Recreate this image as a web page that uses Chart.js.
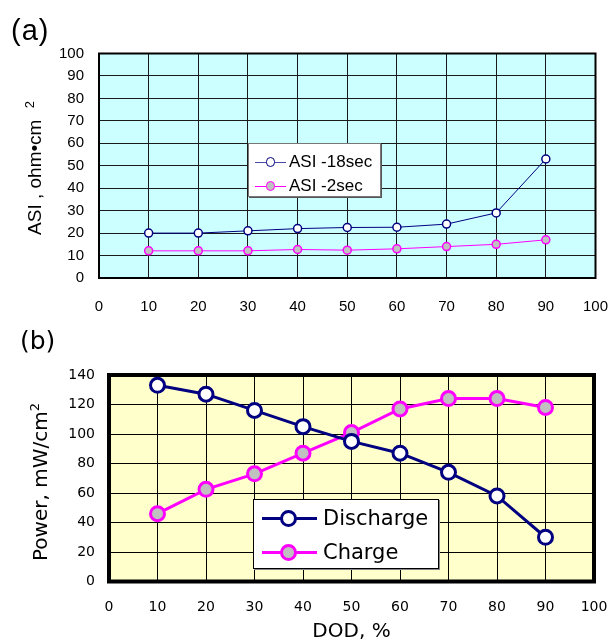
<!DOCTYPE html>
<html lang="en">
<head>
<meta charset="UTF-8">
<title>ASI and Power vs DOD</title>
<script src="https://cdn.jsdelivr.net/npm/chart.js"></script>
<style>
  body { margin: 0; background: #fff; }
  #wrap { position: relative; width: 613px; height: 640px; overflow: hidden; }
  #wrap canvas { position: absolute; left: 0; }
  .txt { position: absolute; white-space: nowrap; color: #000; }
  .ytitle { position: absolute; text-align: center; transform: rotate(-90deg); white-space: nowrap; }
  .legend { position: absolute; box-sizing: border-box; background: #fff; }
  .legend .row { display: flex; align-items: center; white-space: nowrap; }
  .legend .sample { position: relative; flex: none; }
  .legend .sample .ln { position: absolute; left: 0; right: 0; top: 50%; }
  .legend .sample .pt { position: absolute; left: 50%; top: 50%; border-radius: 50%; box-sizing: border-box; }
</style>
</head>
<body>
<div id="wrap">
  <canvas id="chartA" width="613" height="320" style="top:0"></canvas>
  <canvas id="chartB" width="613" height="322" style="top:320px"></canvas>

  <div class="txt" style="left:11px; top:14px; font:29px 'Liberation Sans', Arial, sans-serif; letter-spacing:1px;">(a)</div>
  <div class="txt" style="left:20px; top:326px; font:25px 'DejaVu Sans', Verdana, sans-serif;">(b)</div>

  <div class="ytitle" style="left:-67px; top:157px; width:200px; height:22px; line-height:22px; font:19px 'Liberation Sans', Arial, sans-serif;">ASI , ohm&bull;cm <sup style="font-size:13px; margin-left:6px;">2</sup></div>
  <div class="ytitle" style="left:-60px; top:469px; width:200px; height:26px; line-height:26px; font:20px 'DejaVu Sans', Verdana, sans-serif;">Power, mW/cm<sup style="font-size:13px;">2</sup></div>

  <div id="legendA" class="legend" style="left:248px; top:143px; width:133px; height:54px; border:1px solid #777; box-shadow:1px 1px 0 #555; padding:6px 0 0 6px; font:17px 'Liberation Sans', Arial, sans-serif;"></div>
  <div id="legendB" class="legend" style="left:253px; top:499px; width:186px; height:70px; border:1px solid #000; box-shadow:1px 1px 0 #888; padding:1px 0 0 8px; font:21px 'DejaVu Sans', Verdana, sans-serif;"></div>
</div>

<script>
  // depth of discharge, %
  var dod = [10, 20, 30, 40, 50, 60, 70, 80, 90];

  // (a) ASI, ohm.cm2
  var asi18 = [20, 20, 21, 22, 22.5, 22.6, 24, 29, 53];
  var asi2 = [12.1, 12.1, 12.1, 12.7, 12.4, 13, 14, 15, 17];

  // (b) power, mW/cm2
  var discharge = [133, 127, 116, 105, 95, 87, 74, 58, 30];
  var charge = [46, 62.5, 73, 87, 101, 117, 124, 124, 118];

  // axis ticks
  var dodTicks = [0, 100, 10];     // min, max, step
  var asiTicks = [0, 100, 10];
  var powerTicks = [0, 140, 20];

  function pts(xs, ys) {
    return xs.map(function (x, i) { return { x: x, y: ys[i] }; });
  }

  // plot area fill + frame
  var framePlugin = {
    id: 'frame',
    beforeDraw: function (chart, args, opts) {
      var a = chart.chartArea, ctx = chart.ctx;
      ctx.save();
      ctx.fillStyle = opts.fill;
      ctx.fillRect(a.left, a.top, a.right - a.left, a.bottom - a.top);
      ctx.restore();
    },
    beforeDatasetsDraw: function (chart, args, opts) {
      var a = chart.chartArea, ctx = chart.ctx;
      ctx.save();
      ctx.strokeStyle = '#000';
      ctx.lineWidth = opts.width;
      ctx.strokeRect(a.left, a.top, a.right - a.left, a.bottom - a.top);
      ctx.restore();
    }
  };

  function buildLegend(chart, el, o) {
    chart.data.datasets.forEach(function (ds) {
      var row = document.createElement('div');
      row.className = 'row';
      row.style.height = o.rowH + 'px';
      var s = document.createElement('div');
      s.className = 'sample';
      s.style.width = o.w + 'px';
      s.style.height = o.rowH + 'px';
      s.style.marginRight = o.gap + 'px';
      var ln = document.createElement('div');
      ln.className = 'ln';
      ln.style.borderTop = ds.borderWidth + 'px solid ' + (ds.legendLine || ds.borderColor);
      ln.style.marginTop = (-ds.borderWidth / 2) + 'px';
      var pt = document.createElement('div');
      pt.className = 'pt';
      var d = ds.pointRadius * 2 + ds.pointBorderWidth;
      pt.style.width = d + 'px';
      pt.style.height = d + 'px';
      pt.style.marginLeft = (-d / 2 + (o.ptShift || 0)) + 'px';
      pt.style.marginTop = (-d / 2) + 'px';
      pt.style.background = ds.pointBackgroundColor;
      pt.style.border = ds.pointBorderWidth + 'px solid ' + ds.pointBorderColor;
      s.appendChild(ln);
      s.appendChild(pt);
      var t = document.createElement('span');
      t.textContent = ds.label;
      row.appendChild(s);
      row.appendChild(t);
      el.appendChild(row);
    });
  }

  // keep the plot box where the layout padding puts it
  function noEdgePad(s) {
    s.paddingLeft = 0;
    s.paddingRight = 0;
  }

  var fontA = { family: "'Liberation Sans', Arial, sans-serif", size: 15 };
  var fontB = { family: "'DejaVu Sans', Verdana, sans-serif", size: 14 };

  // ---- chart (a) ----
  var chartA = new Chart(document.getElementById('chartA'), {
    type: 'line',
    data: {
      datasets: [{
        label: 'ASI -18sec',
        data: pts(dod, asi18),
        borderColor: '#000080',
        legendLine: '#4a4aa8',
        borderWidth: 1,
        pointRadius: 4,
        pointBorderWidth: 1.5,
        pointBackgroundColor: '#ffffff',
        pointBorderColor: '#000080'
      }, {
        label: 'ASI -2sec',
        data: pts(dod, asi2),
        borderColor: '#ff00ff',
        borderWidth: 1,
        pointRadius: 4,
        pointBorderWidth: 1.5,
        pointBackgroundColor: '#c0c0c0',
        pointBorderColor: '#ff00ff'
      }]
    },
    options: {
      responsive: false,
      animation: false,
      layout: { padding: { top: 53.5, right: 17.5, bottom: 0, left: 0 } },
      plugins: {
        legend: { display: false },
        tooltip: { enabled: false },
        frame: { fill: '#ccffff', width: 2 }
      },
      scales: {
        x: {
          type: 'linear',
          min: dodTicks[0], max: dodTicks[1],
          ticks: { stepSize: dodTicks[2], padding: 20, color: '#000', font: fontA },
          grid: { color: '#1a1a1a', lineWidth: 1, drawTicks: false },
          border: { display: false },
          afterFit: function (s) { s.height = 42; noEdgePad(s); }
        },
        y: {
          min: asiTicks[0], max: asiTicks[1],
          ticks: { stepSize: asiTicks[2], padding: 15, color: '#000', font: fontA },
          grid: { color: '#1a1a1a', lineWidth: 1, drawTicks: false },
          border: { display: false },
          afterFit: function (s) { s.width = 99; }
        }
      }
    },
    plugins: [framePlugin]
  });

  // ---- chart (b) ----
  var chartB = new Chart(document.getElementById('chartB'), {
    type: 'line',
    data: {
      datasets: [{
        label: 'Discharge',
        data: pts(dod, discharge),
        borderColor: '#000080',
        borderWidth: 3,
        pointRadius: 7,
        pointBorderWidth: 3,
        pointBackgroundColor: '#ffffff',
        pointBorderColor: '#000080'
      }, {
        label: 'Charge',
        data: pts(dod, charge),
        borderColor: '#ff00ff',
        borderWidth: 3,
        pointRadius: 7,
        pointBorderWidth: 3,
        pointBackgroundColor: '#c0c0c0',
        pointBorderColor: '#ff00ff'
      }]
    },
    options: {
      responsive: false,
      animation: false,
      layout: { padding: { top: 55, right: 19, bottom: 0, left: 0 } },
      plugins: {
        legend: { display: false },
        tooltip: { enabled: false },
        frame: { fill: '#ffffcc', width: 4 }
      },
      scales: {
        x: {
          type: 'linear',
          min: dodTicks[0], max: dodTicks[1],
          ticks: { stepSize: dodTicks[2], padding: 17, color: '#000', font: fontB },
          grid: { color: '#000', lineWidth: 1, drawTicks: false },
          border: { display: false },
          title: {
            display: true, text: 'DOD, %', color: '#000',
            font: { family: "'DejaVu Sans', Verdana, sans-serif", size: 20, lineHeight: 1 },
            padding: 0
          },
          afterFit: function (s) { s.height = 60.5; noEdgePad(s); }
        },
        y: {
          min: powerTicks[0], max: powerTicks[1],
          ticks: { stepSize: powerTicks[2], padding: 14, color: '#000', font: fontB },
          grid: { color: '#000', lineWidth: 1, drawTicks: false },
          border: { display: false },
          afterFit: function (s) { s.width = 109; }
        }
      }
    },
    plugins: [framePlugin]
  });

  buildLegend(chartA, document.getElementById('legendA'), { rowH: 24, w: 31, gap: 3 });
  buildLegend(chartB, document.getElementById('legendB'), { rowH: 34, w: 55, gap: 6, ptShift: -1 });
</script>
</body>
</html>
